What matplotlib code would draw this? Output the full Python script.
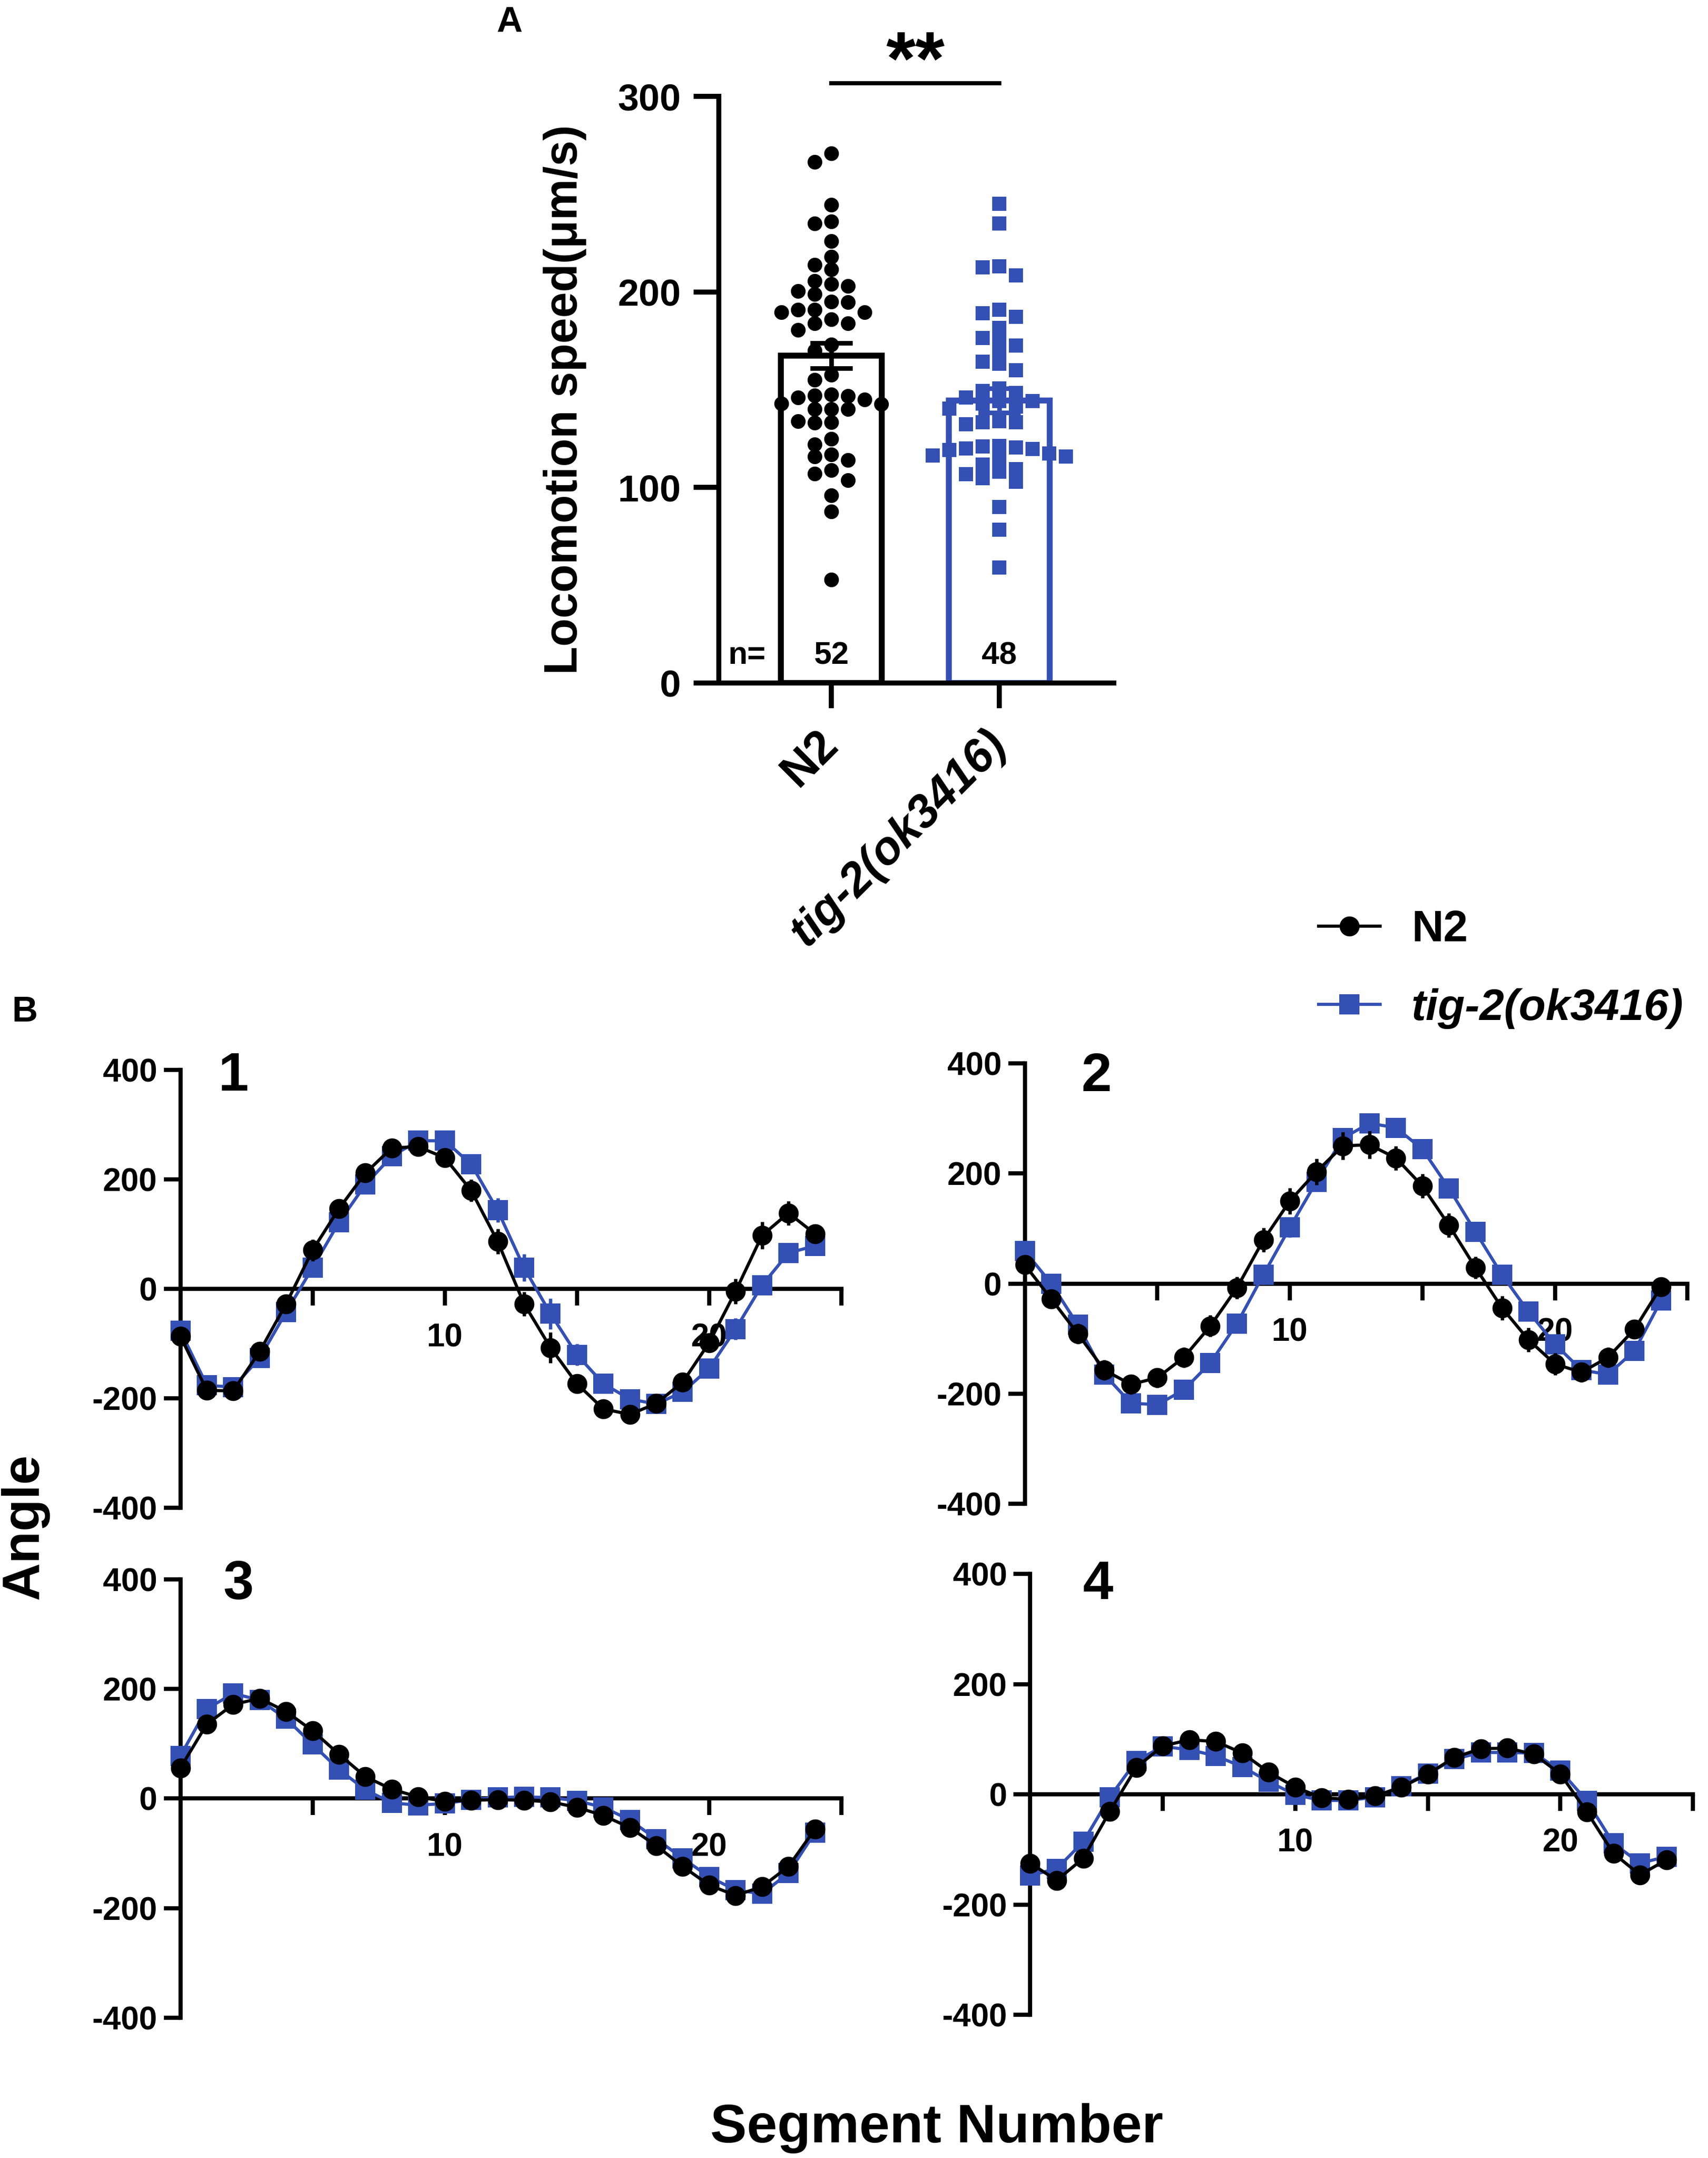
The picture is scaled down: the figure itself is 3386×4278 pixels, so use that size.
import numpy as np
import matplotlib
matplotlib.use('Agg')
import matplotlib.pyplot as plt
from matplotlib.lines import Line2D

plt.rcParams['font.family'] = ['Liberation Sans', 'DejaVu Sans']
plt.rcParams['font.weight'] = 'bold'
plt.rcParams['axes.labelweight'] = 'bold'
plt.rcParams['axes.unicode_minus'] = False

BLUE = '#3450B4'

# ---------------- data: panel A ----------------
groups = ['N2', 'tig-2(ok3416)']
n2_speed = [271, 266.5, 244.7, 235, 236, 226, 218, 214, 211.5, 205.7, 204, 203, 200.5,
            199, 195, 194.7, 190.8, 190.8, 189.7, 189.7, 186, 184, 184, 180.5, 173, 170,
            157.6, 155, 146.8, 147, 147.7, 145, 143, 146, 142.7, 140, 140, 140, 133.5,
            133, 134, 124.8, 122, 117, 115.8, 114, 109, 107, 103.7, 96, 87.6, 52.8]
tig2_speed = [245, 235, 212.6, 213, 208.5, 190.8, 189, 187.4, 181.7, 176, 176.6, 172.5,
              170, 164.4, 163.3, 160, 150.7, 149.5, 148.4, 144.3, 144.3, 143, 146, 141.5,
              140.4, 133.5, 132.3, 133.5, 134, 120.4, 116.3, 117.4, 119.3, 119.7, 121, 120,
              121.3, 115.8, 114, 111.7, 106.7, 103, 109.4, 104.8, 90, 78.4, 59, 108]
bar_means = [167.5, 144.5]
bar_sem = [6.5, 6.3]
n_counts = ['52', '48']
speed_ticks = [0, 100, 200, 300]

# ---------------- data: panel B ----------------
segments = list(range(25))
p1_n2 = [-86, -185, -186, -114, -27, 71, 147, 212, 258, 260, 240, 180, 87, -27, -107,
         -173, -219, -229, -209, -170, -98, -4, 98, 139, 101]
p1_n2_err = [8, 8, 8, 10, 15, 20, 17, 10, 8, 8, 12, 20, 23, 22, 28, 17, 13, 13, 10, 13,
             15, 23, 25, 22, 8]
p1_tig = [-76, -176, -179, -126, -42, 39, 122, 191, 243, 271, 271, 228, 144, 39, -45,
          -120, -173, -201, -210, -188, -145, -73, 7, 66, 79]
p1_tig_err = [10, 8, 8, 8, 10, 12, 12, 8, 8, 8, 8, 12, 22, 25, 28, 20, 15, 10, 8, 10, 12,
              20, 15, 12, 10]

p2_n2 = [34, -28, -91, -157, -183, -171, -134, -77, -8, 79, 150, 203, 250, 252, 228, 177,
         106, 29, -44, -102, -146, -161, -134, -83, -6]
p2_n2_err = [10, 15, 18, 18, 18, 18, 18, 20, 20, 22, 24, 24, 25, 25, 22, 22, 22, 20, 22,
             22, 20, 18, 18, 15, 8]
p2_tig = [59, 0, -75, -165, -217, -220, -193, -144, -73, 16, 102, 185, 264, 291, 283, 244,
          173, 94, 16, -51, -110, -157, -165, -122, -31]
p2_tig_err = [12, 10, 10, 10, 10, 10, 10, 12, 15, 18, 18, 18, 15, 12, 10, 12, 14, 15, 15,
              12, 12, 10, 10, 10, 10]

p3_n2 = [56, 136, 172, 183, 159, 124, 81, 40, 17, 3, -5, -3, -2, -3, -6, -16, -31, -53,
         -86, -124, -158, -177, -161, -124, -56]
p3_n2_err = [6, 6, 6, 6, 6, 6, 5, 5, 4, 4, 4, 4, 4, 4, 4, 5, 5, 5, 6, 6, 6, 6, 6, 6, 5]
p3_tig = [78, 164, 192, 180, 146, 99, 53, 16, -8, -12, -9, -2, 2, 3, 2, -4, -16, -39, -74,
          -109, -143, -167, -174, -136, -62]
p3_tig_err = [6, 6, 6, 6, 6, 6, 5, 5, 4, 4, 4, 4, 4, 4, 4, 5, 5, 5, 6, 6, 6, 6, 6, 6, 5]

p4_n2 = [-125, -156, -116, -31, 49, 88, 99, 96, 75, 40, 13, -6, -9, -3, 13, 37, 67, 83, 84,
         73, 37, -32, -107, -146, -119]
p4_n2_err = [6, 6, 6, 6, 5, 5, 5, 5, 5, 5, 4, 4, 4, 4, 4, 4, 5, 5, 5, 5, 5, 6, 6, 6, 5]
p4_tig = [-147, -135, -86, -5, 61, 87, 81, 70, 50, 23, -1, -11, -11, -5, 15, 38, 64, 76,
          76, 75, 43, -12, -89, -125, -113]
p4_tig_err = [6, 6, 6, 6, 5, 5, 5, 5, 5, 5, 4, 4, 4, 4, 4, 4, 5, 5, 5, 5, 5, 6, 6, 6, 5]

angle_ticks = [-400, -200, 0, 200, 400]
seg_ticks = [5, 10, 15, 20, 25]
seg_ticklabels = ['', '10', '', '20', '']

# ---------------- figure ----------------
W, H, DPI = 3386, 4278, 300
fig = plt.figure(figsize=(W / DPI, H / DPI), dpi=DPI)

# ----- Panel A -----
axA = fig.add_axes([0.4209, 0.6835, 0.6521 - 0.4209, 0.9553 - 0.6835])
xA = np.arange(len(groups))
axA.set_xlim(-0.667, 1.68)
axA.set_ylim(0, 300)
colorsA = ['black', BLUE]
axA.bar(xA, bar_means, width=0.6, facecolor='white', edgecolor=colorsA,
        linewidth=2.8, zorder=1)


def swarm_x(values, center, ax, col_px, sep_px):
    trans = ax.transData
    inv = trans.inverted()
    order = np.argsort(values)[::-1]
    placed = []
    cols = np.zeros(len(values))
    cand = [0]
    for j in range(1, 15):
        cand += [-j, j]
    cx0 = trans.transform((center, 0))[0]
    for idx in order:
        ypx = trans.transform((center, values[idx]))[1]
        for c in cand:
            ok = True
            for (pc, py) in placed:
                if pc == c and abs(py - ypx) < sep_px:
                    ok = False
                    break
            if ok:
                placed.append((c, ypx))
                cols[idx] = c
                break
    xs = []
    for i, v in enumerate(values):
        ypx = trans.transform((center, v))[1]
        xs.append(inv.transform((cx0 + cols[i] * col_px, ypx))[0])
    return np.array(xs)


x_n2 = swarm_x(n2_speed, 0, axA, 33, 24)
x_tig = swarm_x(tig2_speed, 1, axA, 33, 22)
axA.plot(x_n2, n2_speed, 'o', color='black', ms=7, mew=0, zorder=3, clip_on=False)
axA.plot(x_tig, tig2_speed, 's', color=BLUE, ms=6.5, mew=0, zorder=3, clip_on=False)
for i in range(2):
    axA.errorbar(xA[i], bar_means[i], yerr=bar_sem[i], color=colorsA[i], capsize=10,
                 elinewidth=2.2, capthick=2.2, zorder=4)

axA.spines['top'].set_visible(False)
axA.spines['right'].set_visible(False)
axA.spines['left'].set_linewidth(2.4)
axA.spines['bottom'].set_linewidth(2.4)
axA.set_yticks(speed_ticks)
axA.set_xticks(xA)
axA.set_xticklabels(groups, rotation=45, ha='right', va='center',
                    rotation_mode='anchor', fontsize=22)
axA.get_xticklabels()[1].set_style('italic')
axA.tick_params(axis='y', length=12, width=2.4, labelsize=18, pad=6)
axA.tick_params(axis='x', length=12, width=2.4, pad=14)

# n labels
axA.text(-0.5, 14, 'n=', fontsize=15, ha='center', va='center')
for i in range(2):
    axA.text(xA[i], 14, n_counts[i], fontsize=15, ha='center', va='center')

# significance
axA.plot([0, 1], [306.7, 306.7], color='black', lw=2, clip_on=False)
axA.text(0.5, 306, '**', fontsize=36, ha='center', va='baseline', clip_on=False)

fig.text(0.3308, 0.8149, 'Locomotion speed(μm/s)', rotation=90, fontsize=22,
         ha='center', va='center')
fig.text(0.2983, 0.9895, 'A', fontsize=17, ha='center', va='center')

# ----- Panel B -----
rects = [
    [0.1056, 0.3012, 0.387, 0.2029],
    [0.6000, 0.3031, 0.388, 0.2042],
    [0.1056, 0.0651, 0.387, 0.2029],
    [0.6032, 0.0664, 0.388, 0.2042],
]
series = [
    (p1_n2, p1_n2_err, p1_tig, p1_tig_err, '1', (2.0, 388)),
    (p2_n2, p2_n2_err, p2_tig, p2_tig_err, '2', (2.7, 375)),
    (p3_n2, p3_n2_err, p3_tig, p3_tig_err, '3', (2.2, 390)),
    (p4_n2, p4_n2_err, p4_tig, p4_tig_err, '4', (2.55, 380)),
]
for rect, (n2, n2e, tg, tge, lab, lxy) in zip(rects, series):
    ax = fig.add_axes(rect)
    ax.errorbar(segments, tg, yerr=tge, color=BLUE, marker='s', ms=9.5, mew=0, lw=1.5,
                capsize=4.5, elinewidth=1.6, capthick=1.6, zorder=3, clip_on=False)
    ax.errorbar(segments, n2, yerr=n2e, color='black', marker='o', ms=9.5, mew=0, lw=1.5,
                capsize=4.5, elinewidth=1.6, capthick=1.6, zorder=4, clip_on=False)
    ax.set_xlim(0, 25)
    ax.set_ylim(-400, 400)
    ax.spines['top'].set_visible(False)
    ax.spines['right'].set_visible(False)
    ax.spines['bottom'].set_position(('data', 0))
    ax.spines['left'].set_linewidth(2.0)
    ax.spines['bottom'].set_linewidth(2.0)
    ax.set_yticks(angle_ticks)
    ax.set_xticks(seg_ticks)
    ax.set_xticklabels(seg_ticklabels)
    ax.tick_params(axis='y', length=8, width=2.0, labelsize=15.5, pad=3)
    ax.tick_params(axis='x', length=8, width=2.0, labelsize=15.5, pad=8)
    ax.text(lxy[0], lxy[1], lab, fontsize=26, ha='center', va='center')

handles = [Line2D([], [], color='black', marker='o', ms=9.5, mew=0, lw=1.5),
           Line2D([], [], color=BLUE, marker='s', ms=9.5, mew=0, lw=1.5)]
leg = fig.legend(handles, ['N2', 'tig-2(ok3416)'], loc='upper left',
                 bbox_to_anchor=(0.772, 0.5785), frameon=False, handlelength=1.4,
                 handletextpad=0.7, labelspacing=0.85, borderpad=0, borderaxespad=0,
                 fontsize=21)
leg.get_texts()[1].set_style('italic')

fig.text(0.0145, 0.5309, 'B', fontsize=17, ha='center', va='center')
fig.text(0.0145, 0.2927, 'Angle', rotation=90, fontsize=25, ha='center', va='center')
fig.text(0.5484, 0.0138, 'Segment Number', fontsize=26, ha='center', va='center')

fig.savefig('out.png', dpi=DPI)
